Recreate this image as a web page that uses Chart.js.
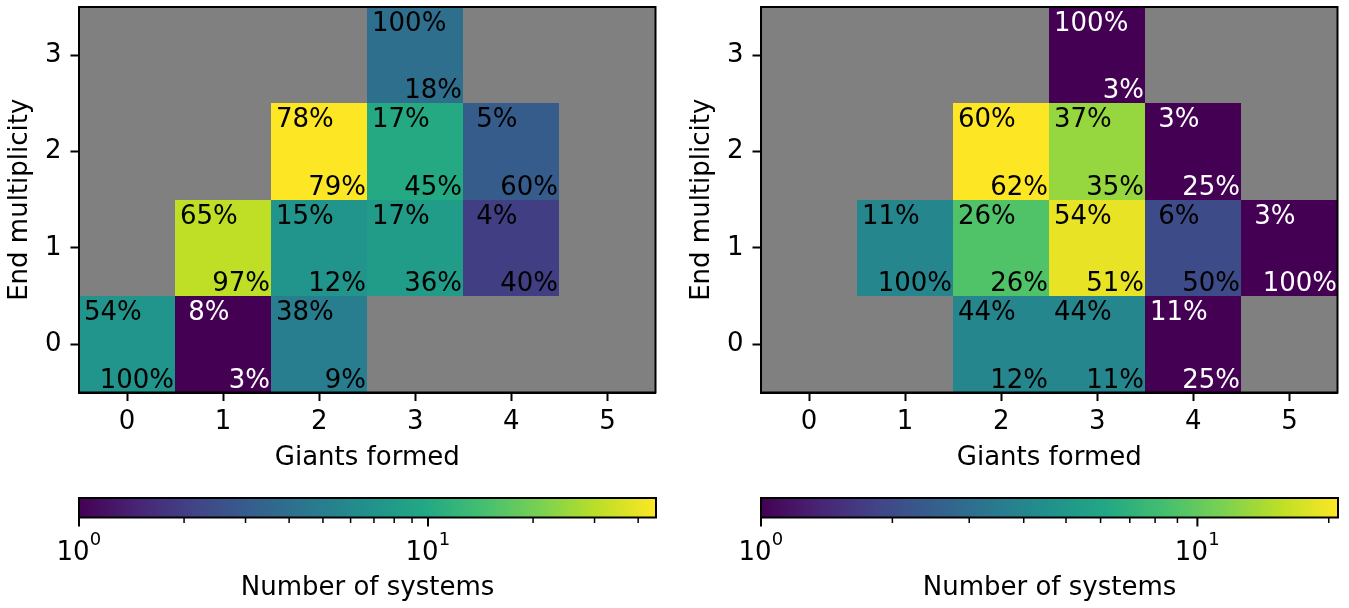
<!DOCTYPE html>
<html>
<head>
<meta charset="utf-8">
<script src="https://cdn.jsdelivr.net/npm/chart.js@4/dist/chart.umd.min.js"></script>
<style>
  html, body { margin: 0; padding: 0; background: #fff; }
  body { width: 1349px; height: 608px; position: relative; overflow: hidden; }
  .box { position: absolute; }
</style>
</head>
<body>
<div class="box" style="left:0;top:0;width:680px;height:474px"><canvas id="mapA"></canvas></div>
<div class="box" style="left:682px;top:0;width:680px;height:474px"><canvas id="mapB"></canvas></div>
<div class="box" style="left:0;top:490px;width:680px;height:118px"><canvas id="barA"></canvas></div>
<div class="box" style="left:682px;top:490px;width:680px;height:118px"><canvas id="barB"></canvas></div>
<script>
// Axis categories
const giantsFormed = [0, 1, 2, 3, 4, 5];
const endMultiplicity = [0, 1, 2, 3];

// Number of systems: rows = end multiplicity, columns = giants formed (null = none)
const countsA = [
  [7,    1,    5,    null, null, null],
  [null, 31,   7,    8,    2,    null],
  [null, null, 45,   10,   3,    null],
  [null, null, null, 4,    null, null]
];
const countsB = [
  [null, null, 4,    4,    1,    null],
  [null, 4,    9,    19,   2,    1   ],
  [null, null, 21,   13,   1,    null],
  [null, null, null, 1,    null, null]
];

// Colour bar ticks
const colorbarMajorTicks = [1, 10];
const colorbarMinorTicks = [2, 3, 4, 5, 6, 7, 8, 9, 20, 30, 40];

const FONT = 'DejaVu Sans';
const FS = 26;
Chart.defaults.font.family = FONT;
Chart.defaults.font.size = FS;
Chart.defaults.color = '#000';

const VIRIDIS = ['#440154', '#482475', '#414487', '#355f8d', '#2a788e', '#21918c',
                 '#22a884', '#44bf70', '#7ad151', '#bddf26', '#fde725'];
function hexRgb(h) { return [1, 3, 5].map(i => parseInt(h.slice(i, i + 2), 16)); }
const VIR_RGB = VIRIDIS.map(hexRgb);
function viridis(t) {
  t = Math.min(1, Math.max(0, t));
  const f = t * (VIR_RGB.length - 1);
  const i = Math.min(VIR_RGB.length - 2, Math.floor(f));
  const u = f - i;
  const a = VIR_RGB[i], b = VIR_RGB[i + 1];
  const c = a.map((v, k) => Math.round(v + (b[k] - v) * u));
  return `rgb(${c[0]},${c[1]},${c[2]})`;
}

// Cells with row share (top-left) and column share (bottom-right)
function buildCells(counts) {
  const cells = [];
  counts.forEach((row, yi) => {
    const rowTotal = row.reduce((s, v) => s + (v || 0), 0);
    row.forEach((c, xi) => {
      if (c == null) return;
      const colTotal = counts.reduce((s, r) => s + (r[xi] || 0), 0);
      cells.push({
        x: giantsFormed[xi], y: endMultiplicity[yi], count: c,
        rowPct: Math.round(100 * c / rowTotal),
        colPct: Math.round(100 * c / colTotal)
      });
    });
  });
  return cells;
}
function maxCount(counts) { return Math.max(...counts.flat().filter(v => v != null)); }

const heatmapPlugin = {
  id: 'heatmapCells',
  beforeDatasetsDraw(chart) {
    const { ctx, chartArea: a, scales: { x, y } } = chart;
    const ds = chart.data.datasets[0];
    const logMax = Math.log(ds.vmax);
    ctx.save();
    ctx.fillStyle = '#808080';
    ctx.fillRect(a.left, a.top, a.right - a.left, a.bottom - a.top);
    ctx.font = `${FS}px "${FONT}"`;
    ds.data.forEach(c => {
      const l = Math.round(x.getPixelForValue(c.x - 0.5));
      const r = Math.round(x.getPixelForValue(c.x + 0.5));
      const t = Math.round(y.getPixelForValue(c.y + 0.5));
      const b = Math.round(y.getPixelForValue(c.y - 0.5));
      const norm = Math.log(c.count) / logMax;
      ctx.fillStyle = viridis(norm);
      ctx.fillRect(l, t, r - l, b - t);
      ctx.fillStyle = norm < 0.1 ? '#ffffff' : '#000000';
      ctx.textBaseline = 'alphabetic';
      ctx.textAlign = 'left';
      ctx.fillText(String(c.rowPct).padStart(2, ' ') + '%', l + 5, t + 24);
      ctx.textAlign = 'right';
      ctx.fillText(c.colPct + '%', r - 1, b - 5);
    });
    ctx.restore();
  },
  afterDraw(chart) {
    const { ctx, chartArea: a } = chart;
    ctx.save();
    ctx.strokeStyle = '#000';
    ctx.lineWidth = 2;
    ctx.strokeRect(a.left, a.top, a.right - a.left, a.bottom - a.top);
    ctx.restore();
  }
};

function heatmap(id, counts) {
  const cells = buildCells(counts);
  return new Chart(document.getElementById(id), {
    type: 'scatter',
    data: { datasets: [{ data: cells, vmax: maxCount(counts), pointRadius: 0, pointHoverRadius: 0 }] },
    options: {
      responsive: true, maintainAspectRatio: false, animation: false, devicePixelRatio: 1,
      layout: { padding: { left: 0, top: 7, right: 24.5, bottom: 0 } },
      plugins: { legend: { display: false }, tooltip: { enabled: false } },
      scales: {
        x: {
          type: 'linear', min: -0.5, max: 5.5,
          afterBuildTicks: s => { s.ticks = giantsFormed.map(v => ({ value: v })); },
          afterFit: s => { s.height = 81.5; s.paddingLeft = 0; s.paddingRight = 0; },
          ticks: { padding: 6, font: { size: FS }, callback: v => String(v) },
          grid: { drawOnChartArea: false, drawTicks: true, tickLength: 8.5, tickWidth: 2, tickColor: '#000' },
          border: { display: true, color: '#000', width: 2 },
          title: { display: true, text: 'Giants formed', font: { size: FS }, padding: { top: 0, bottom: 0 } }
        },
        y: {
          type: 'linear', min: -0.5, max: 3.5,
          afterBuildTicks: s => { s.ticks = endMultiplicity.map(v => ({ value: v })); },
          afterFit: s => { s.width = 79; s.paddingTop = 0; s.paddingBottom = 0; },
          ticks: { padding: 9, font: { size: FS }, callback: v => String(v) },
          grid: { drawOnChartArea: false, drawTicks: true, tickLength: 8.5, tickWidth: 2, tickColor: '#000' },
          border: { display: true, color: '#000', width: 2 },
          title: { display: true, text: 'End multiplicity', font: { size: FS }, padding: { top: 5, bottom: 0 } }
        }
      }
    },
    plugins: [heatmapPlugin]
  });
}

const TICK_PAD = 12;
const EXP_FS = 18;

const colorbarPlugin = {
  id: 'colorbarFill',
  beforeDatasetsDraw(chart) {
    const { ctx, chartArea: a, scales: { x } } = chart;
    const logMax = Math.log(x.max);
    ctx.save();
    for (let px = Math.floor(a.left); px < Math.ceil(a.right); px++) {
      const v = x.getValueForPixel(px + 0.5);
      ctx.fillStyle = viridis(Math.log(v) / logMax);
      ctx.fillRect(px, a.top, 1, a.bottom - a.top);
    }
    ctx.strokeStyle = '#000';
    ctx.lineWidth = 2;
    ctx.strokeRect(a.left, a.top, a.right - a.left, a.bottom - a.top);
    const tick = (v, len, w) => {
      if (v < x.min || v > x.max) return;
      const p = x.getPixelForValue(v);
      ctx.lineWidth = w;
      ctx.beginPath();
      ctx.moveTo(p, a.bottom);
      ctx.lineTo(p, a.bottom + len);
      ctx.stroke();
    };
    colorbarMinorTicks.forEach(v => tick(v, 5.5, 1.5));
    colorbarMajorTicks.forEach(v => tick(v, 9, 2));
    ctx.restore();
  },
  afterDraw(chart) {
    // exponent of each "10^n" tick label, set as a superscript
    const { ctx, scales: { x } } = chart;
    ctx.save();
    ctx.font = `${FS}px "${FONT}"`;
    const baseW = ctx.measureText('10').width;
    const baseline = x.top + TICK_PAD + FS * 1.2 / 2 + 0.346 * FS;
    ctx.font = `${EXP_FS}px "${FONT}"`;
    ctx.fillStyle = '#000';
    ctx.textAlign = 'left';
    ctx.textBaseline = 'alphabetic';
    colorbarMajorTicks.forEach(v => {
      const expo = String(Math.round(Math.log10(v)));
      const expW = ctx.measureText(expo).width;
      const p = x.getPixelForValue(v);
      ctx.fillText(expo, p - expW / 2 + baseW / 2, baseline - 9);
    });
    ctx.restore();
  }
};

function colorbar(id, counts) {
  return new Chart(document.getElementById(id), {
    type: 'scatter',
    data: { datasets: [{ data: [], pointRadius: 0 }] },
    options: {
      responsive: true, maintainAspectRatio: false, animation: false, devicePixelRatio: 1,
      layout: { padding: { left: 79, top: 8, right: 24, bottom: 0 } },
      plugins: { legend: { display: false }, tooltip: { enabled: false } },
      scales: {
        x: {
          type: 'logarithmic', min: 1, max: maxCount(counts),
          afterBuildTicks: s => { s.ticks = colorbarMajorTicks.map(v => ({ value: v, major: true })); },
          afterFit: s => { s.height = 90.5; s.paddingLeft = 0; s.paddingRight = 0; },
          ticks: {
            padding: TICK_PAD, font: { size: FS }, autoSkip: false, maxRotation: 0,
            labelOffset: -6,
            callback: () => '10'
          },
          grid: { display: false },
          border: { display: false },
          title: { display: true, text: 'Number of systems', font: { size: FS }, padding: { top: 0, bottom: 4 } }
        },
        y: { display: false, min: 0, max: 1 }
      }
    },
    plugins: [colorbarPlugin]
  });
}

heatmap('mapA', countsA);
heatmap('mapB', countsB);
colorbar('barA', countsA);
colorbar('barB', countsB);
</script>
</body>
</html>
